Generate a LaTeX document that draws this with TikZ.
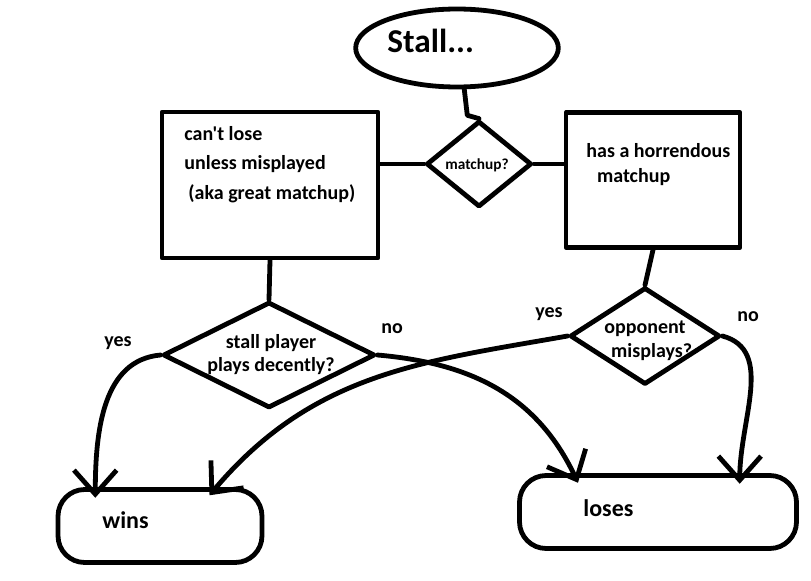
\documentclass[tikz,border=0pt]{standalone}
\usepackage{fontspec}
\setmainfont{Carlito}[Ligatures=TeXOff]
\usetikzlibrary{arrows.meta,calc,shapes.geometric}

\begin{document}
\begin{tikzpicture}[x=0.75pt,y=-0.75pt,
  line width=3.6pt,line cap=round,line join=round,
  txt/.style={font=\bfseries\fontsize{15}{22}\selectfont,inner sep=0pt},
  box/.style={draw,rectangle,inner sep=0pt},
  ask/.style={draw,diamond,inner sep=0pt},
  term/.style={draw,rectangle,rounded corners=20pt,inner sep=0pt},
  arr/.style={-{Straight Barb[length=18pt,width=32pt]},shorten >=-8pt}]
\useasboundingbox (0,0) rectangle (811,581);

% shapes
\node[draw,ellipse,inner sep=0pt,minimum width=152pt,minimum height=58.5pt] (stall) at (457,48) {};
\node[ask,minimum width=79pt,minimum height=64.5pt] (m) at (479,164) {};
\node[box,minimum width=162pt,minimum height=109.5pt] (lbox) at (270,185) {};
\node[box,minimum width=130.5pt,minimum height=101.25pt] (rbox) at (653,180) {};
\node[ask,minimum width=159pt,minimum height=79.5pt] (d2) at (269,355) {};
\node[ask,minimum width=112.5pt,minimum height=72.75pt] (d3) at (645,336) {};
\node[term,minimum width=153pt,minimum height=54.75pt] (wins) at (160,526) {};
\node[term,minimum width=207.75pt,minimum height=54.75pt] (loses) at (658,512) {};

% texts
\node[txt,font=\bfseries\fontsize{25}{30}\selectfont,anchor=base west] (tstall) at (385,53) {Stall...};
\node[txt,font=\bfseries\fontsize{11.5}{14}\selectfont,anchor=base west] (tm) at (443,170) {matchup?};
\node[txt,align=left,anchor=north west] (tl) at (182,124) {can't lose\\unless misplayed\\\hspace{3pt}(aka great matchup)};
\node[txt,font=\bfseries\fontsize{15}{19}\selectfont,align=left,anchor=north west] (tr) at (584,141) {has a horrendous\\\hspace{8pt}matchup};
\node[txt,font=\bfseries\fontsize{15}{17.5}\selectfont,align=center,anchor=north] (t2) at (271,332) {stall player\\plays decently?};
\node[txt,font=\bfseries\fontsize{15}{18}\selectfont,align=center,anchor=north] (t3) at (645,318) {opponent\\\hspace{10pt}misplays?};
\node[txt,font=\bfseries\fontsize{18}{22}\selectfont,anchor=base west] (twins) at (100,528) {wins};
\node[txt,font=\bfseries\fontsize{18}{22}\selectfont,anchor=base west] (tloses) at (581,516) {loses};
\node[txt] (yes1) at (118,343) {yes};
\node[txt] (no1) at (392,329) {no};
\node[txt] (yes2) at (549,314) {yes};
\node[txt] (no2) at (748,317) {no};

% connectors
\draw (stall.-80) -- ++(3,26) -- (m.north);
\draw (lbox.east |- m.west) -- (m.west);
\draw (m.east) -- (rbox.west |- m.east);
\draw (lbox.south) -- (d2.north);
\draw (rbox.south) -- (d3.north);
\draw[arr] (d2.west) to[out=185,in=90] ($(wins.north west)!0.19!(wins.north east)$);
\draw[arr] (d2.east) to[out=-5,in=115] ($(loses.north west)!0.2!(loses.north east)$);
\draw[arr] (d3.west) to[out=190,in=50] ($(wins.north west)!0.77!(wins.north east)$);
\draw[arr] (d3.east) to[out=-15,in=90] ($(loses.north west)!0.79!(loses.north east)$);
\end{tikzpicture}
\end{document}
